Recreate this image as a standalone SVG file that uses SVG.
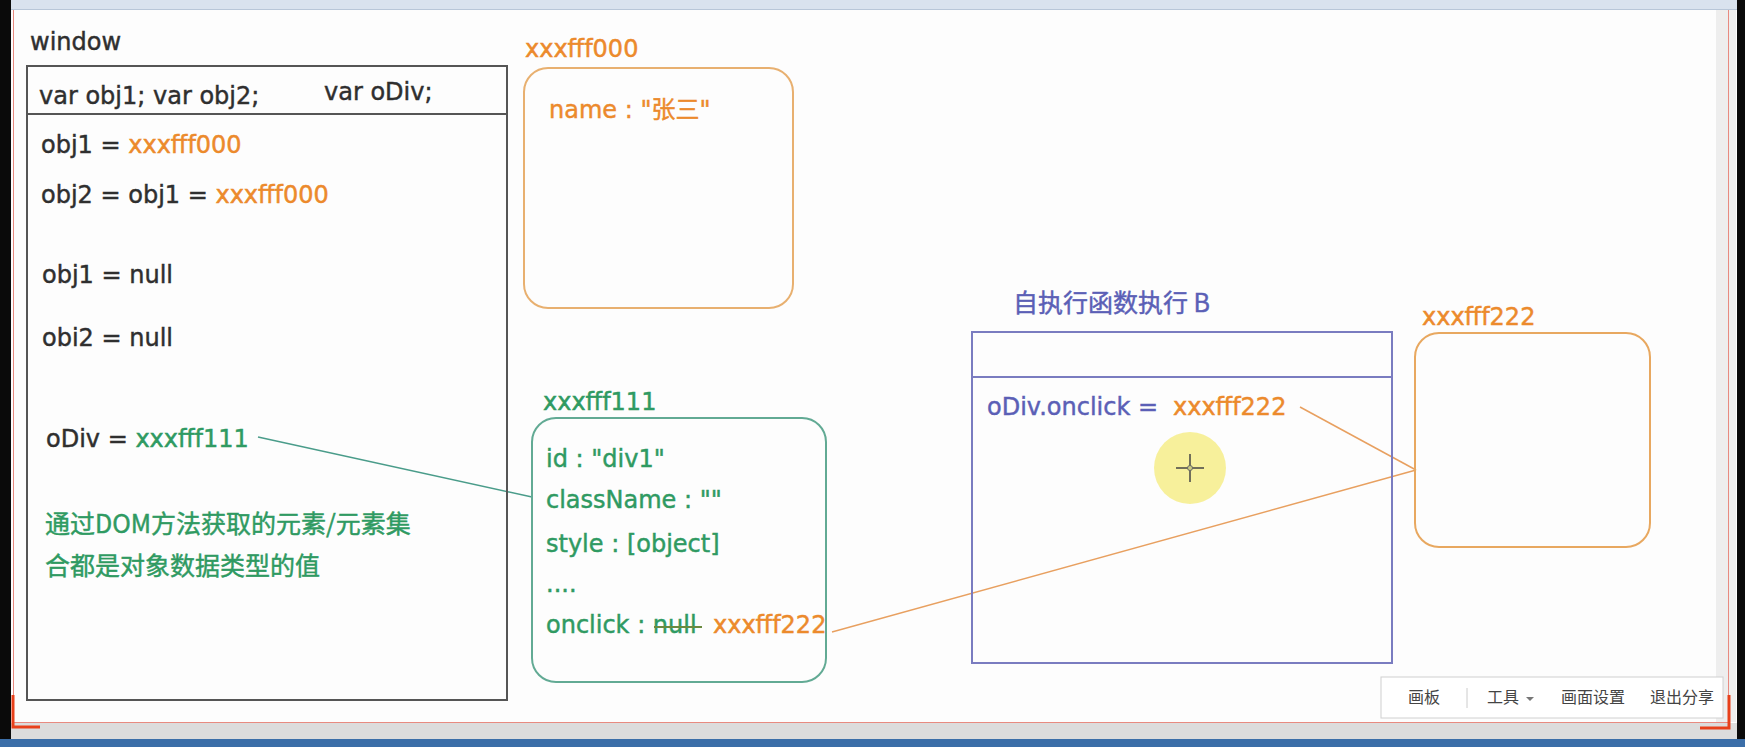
<svg xmlns="http://www.w3.org/2000/svg" width="1745" height="747" viewBox="0 0 1745 747">
<style>
.t{font-family:"DejaVu Sans","Noto Sans CJK SC",sans-serif;font-size:24px;fill:#2f2f2f;stroke:#2f2f2f;stroke-width:0.45px}
.cj{font-family:"Noto Sans CJK SC","DejaVu Sans",sans-serif;font-size:25px}
.or{fill:#ec8a2c;stroke:#ec8a2c}
.gr{fill:#2f9a62;stroke:#2f9a62}
.bl{fill:#5b5fb6;stroke:#5b5fb6}
.ui{font-family:"Noto Sans CJK SC",sans-serif;font-size:16px;fill:#444}
</style>
<!-- screen frame -->
<rect x="0" y="0" width="1745" height="747" fill="#fdfdfd"/>
<rect x="0" y="0" width="1745" height="9" fill="#d9e2ee"/>
<line x1="0" y1="9.5" x2="1745" y2="9.5" stroke="#b8c6d8"/>
<rect x="0" y="0" width="11" height="747" fill="#0a0a0a"/>
<line x1="13.5" y1="10" x2="13.5" y2="722" stroke="#e88a80"/>
<rect x="1716" y="10" width="20" height="712" fill="#eeeeee"/>
<line x1="1728.5" y1="10" x2="1728.5" y2="722" stroke="#e88a80"/>
<rect x="1737" y="0" width="8" height="747" fill="#0a0a0a"/>
<line x1="13" y1="722.5" x2="1729" y2="722.5" stroke="#e88a80"/>
<rect x="11" y="723" width="1726" height="16" fill="#dcdcdc"/>
<rect x="0" y="739" width="1745" height="8" fill="#3b6ea8"/>
<path d="M13 695 V727 H40" fill="none" stroke="#e8401a" stroke-width="3"/>
<path d="M1729 695 V728 H1700" fill="none" stroke="#e8401a" stroke-width="3"/>

<g id="connectors" fill="none" stroke-width="1.5">
<line x1="258" y1="437" x2="532" y2="497" stroke="#4a9c8a"/>
<line x1="832" y1="632" x2="1416" y2="470" stroke="#e8a060"/>
<line x1="1300" y1="407" x2="1416" y2="470" stroke="#e8a060"/>
</g>

<g id="window">
<text class="t" x="30" y="50">window</text>
<rect x="27" y="66" width="480" height="634" fill="none" stroke="#555" stroke-width="2"/>
<line x1="27" y1="114" x2="507" y2="114" stroke="#555" stroke-width="2"/>
<text class="t" x="39" y="104">var obj1; var obj2;</text>
<text class="t" x="324" y="100">var oDiv;</text>
<text class="t" x="41" y="153">obj1 = <tspan class="or">xxxfff000</tspan></text>
<text class="t" x="41" y="203">obj2 = obj1 = <tspan class="or">xxxfff000</tspan></text>
<text class="t" x="42" y="283">obj1 = null</text>
<text class="t" x="42" y="346">obi2 = null</text>
<text class="t" x="46" y="447">oDiv = <tspan class="gr">xxxfff111</tspan></text>
<text class="t cj gr" x="45" y="533">通过DOM方法获取的元素/元素集</text>
<text class="t cj gr" x="45" y="575">合都是对象数据类型的值</text>
</g>

<g id="obj000">
<text class="t or" x="525" y="57">xxxfff000</text>
<rect x="524" y="68" width="269" height="240" rx="24" fill="none" stroke="#e8b070" stroke-width="2"/>
<text class="t or" x="549" y="118">name : "张三"</text>
</g>

<g id="obj111">
<text class="t gr" x="543" y="410">xxxfff111</text>
<rect x="532" y="418" width="294" height="264" rx="24" fill="none" stroke="#62aa94" stroke-width="2"/>
<text class="t gr" x="546" y="467">id : "div1"</text>
<text class="t gr" x="546" y="508">className : ""</text>
<text class="t gr" x="546" y="552">style : [object]</text>
<text class="t gr" x="546" y="592">....</text>
<text class="t gr" x="546" y="633">onclick : null</text>
<line x1="654" y1="627" x2="702" y2="627" stroke="#6a8a40" stroke-width="2"/>
<text class="t or" x="713" y="633">xxxfff222</text>
</g>

<g id="funcB">
<text class="t cj bl" x="1013" y="312">自执行函数执行 B</text>
<rect x="972" y="332" width="420" height="331" fill="none" stroke="#7a7cc0" stroke-width="2"/>
<line x1="972" y1="377" x2="1392" y2="377" stroke="#7a7cc0" stroke-width="2"/>
<text class="t bl" x="987" y="415">oDiv.onclick =</text>
<text class="t or" x="1173" y="415">xxxfff222</text>
</g>

<g id="obj222">
<text class="t or" x="1422" y="325">xxxfff222</text>
<rect x="1415" y="333" width="235" height="214" rx="24" fill="none" stroke="#e8a860" stroke-width="2"/>
</g>

<g id="cursor">
<circle cx="1190" cy="468" r="36" fill="#f6ee90" opacity="0.9"/>
<line x1="1176" y1="468" x2="1204" y2="468" stroke="#444" stroke-width="1.5"/>
<line x1="1190" y1="454" x2="1190" y2="482" stroke="#444" stroke-width="1.5"/>
<circle cx="1190" cy="468" r="2.5" fill="#cccc80" stroke="#666"/>
</g>

<g id="toolbar">
<rect x="1381" y="677" width="342" height="41" fill="#ffffff" stroke="#d0d0d0"/>
<text class="ui" x="1408" y="703">画板</text>
<line x1="1467" y1="688" x2="1467" y2="708" stroke="#ccc"/>
<text class="ui" x="1487" y="703">工具</text>
<path d="M1526 697 h8 l-4 4 z" fill="#777"/>
<text class="ui" x="1561" y="703">画面设置</text>
<text class="ui" x="1650" y="703">退出分享</text>
</g>
</svg>
